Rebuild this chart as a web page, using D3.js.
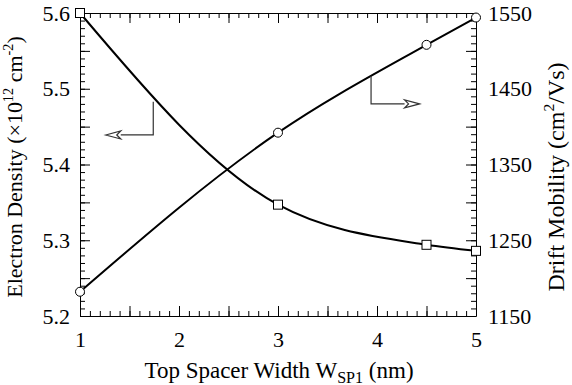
<!DOCTYPE html>
<html>
<head>
<meta charset="utf-8">
<script src="https://cdn.jsdelivr.net/npm/d3@7"></script>
</head>
<body style="margin:0; background:#fff">
<svg width="572" height="385"></svg>
<script>
const svg = d3.select("svg");
const SERIF = "Liberation Serif";

// data
const widths = [1, 3, 4.5, 5];
const density = [5.600, 5.347, 5.294, 5.286];
const mobility = [1182, 1392, 1508, 1544];

const xTicks = [1, 2, 3, 4, 5];
const densityTicks = [5.2, 5.3, 5.4, 5.5, 5.6];
const mobilityTicks = [1150, 1250, 1350, 1450, 1550];

// arrows pointing to the axes: [x, yTop, yBottom, tipX]
const densityArrow = [1.74, 5.483, 5.439, 1.26];
const mobilityArrow = [3.94, 1467, 1430, 4.43];

const x = d3.scaleLinear().domain([1, 5]).range([80, 476]);
const yL = d3.scaleLinear().domain([5.2, 5.6]).range([316, 13]);
const yR = d3.scaleLinear().domain([1150, 1550]).range([316, 13]);

const fmt1 = d3.format(".1f");

function step(a, b, s) {
	return d3.range(0, Math.round((b - a) / s) + 1).map(i => +(a + i * s).toFixed(4));
}

// note: any letter-spacing / dx list makes the renderer drop the serif font, so none here
function axisSet(axisFn, scale, minorStep, majorStep, labels, fmt, pos, pad) {
	const [a, b] = scale.domain();
	// minor ticks
	svg.append("g")
		.attr("transform", pos)
		.call(axisFn(scale).tickValues(step(a, b, minorStep)).tickSizeInner(-5).tickSizeOuter(0).tickFormat(""));
	// major ticks
	svg.append("g")
		.attr("transform", pos)
		.call(axisFn(scale).tickValues(step(a, b, majorStep)).tickSizeInner(-10).tickSizeOuter(0).tickFormat(""))
		.call(g => g.select(".domain").remove());
	if (labels) {
		return svg.append("g")
			.attr("transform", pos)
			.call(axisFn(scale).tickValues(labels).tickSize(0).tickPadding(pad).tickFormat(fmt))
			.call(g => g.attr("font-family", SERIF))
			.call(g => g.select(".domain").remove())
			.call(g => g.selectAll("text").attr("font-size", 22));
	}
}

axisSet(d3.axisBottom, x, 0.1, 0.5, xTicks, d3.format("d"), "translate(0,316)", 0)
	.selectAll("text").attr("y", 31).attr("dy", null);
axisSet(d3.axisTop, x, 0.1, 0.5, null, null, "translate(0,13)");
axisSet(d3.axisLeft, yL, 0.01, 0.05, densityTicks, fmt1, "translate(80,0)", 10);
axisSet(d3.axisRight, yR, 10, 50, mobilityTicks, d3.format("d"), "translate(476,0)", 12);

// curves
const lineL = d3.line().x(d => x(d[0])).y(d => yL(d[1])).curve(d3.curveMonotoneX);
const lineR = d3.line().x(d => x(d[0])).y(d => yR(d[1])).curve(d3.curveMonotoneX);

svg.append("path")
	.attr("d", lineL(widths.map((w, i) => [w, density[i]])))
	.attr("fill", "none").attr("stroke", "#000").attr("stroke-width", 2);
svg.append("path")
	.attr("d", lineR(widths.map((w, i) => [w, mobility[i]])))
	.attr("fill", "none").attr("stroke", "#000").attr("stroke-width", 2);

// markers
svg.selectAll("rect.sq")
	.data(widths.map((w, i) => [w, density[i]]))
	.enter().append("rect")
	.attr("class", "sq")
	.attr("x", d => x(d[0]) - 4.5).attr("y", d => yL(d[1]) - 4.5)
	.attr("width", 9).attr("height", 9)
	.attr("fill", "#fff").attr("stroke", "#000").attr("stroke-width", 1);

svg.selectAll("circle.ci")
	.data(widths.map((w, i) => [w, mobility[i]]))
	.enter().append("circle")
	.attr("class", "ci")
	.attr("cx", d => x(d[0])).attr("cy", d => yR(d[1]))
	.attr("r", 4.5)
	.attr("fill", "#fff").attr("stroke", "#000").attr("stroke-width", 1);

// arrows
function arrow(a, ys, dir) {
	const px = x(a[0]), pt = ys(a[1]), pb = ys(a[2]), tip = x(a[3]);
	const base = tip - dir * 15;
	svg.append("path")
		.attr("d", `M${px},${pt}V${pb}H${base}`)
		.attr("fill", "none").attr("stroke", "#333").attr("stroke-width", 1.2);
	svg.append("path")
		.attr("d", `M${tip},${pb}L${base},${pb - 4}L${base + dir * 4},${pb}L${base},${pb + 4}Z`)
		.attr("fill", "#fff").attr("stroke", "#333").attr("stroke-width", 1.2);
}
arrow(densityArrow, yL, -1);
arrow(mobilityArrow, yR, 1);

// axis titles, built from [text, size, dy] pieces (sizes given for a 20px base)
function title(tr, parts, size) {
	const k = size / 20;
	const t = svg.append("text").attr("transform", tr).attr("text-anchor", "middle")
		.attr("font-family", SERIF).attr("font-size", size);
	parts.forEach(p => {
		t.append("tspan")
			.attr("font-size", p[1] * k)
			.attr("dy", p[2] * k)
			.text(p[0]);
	});
	return t;
}

title("translate(279,378)", [["Top Spacer Width W", 20, 0], ["SP1", 14, 4], [" (nm)", 20, -4]], 23);
title("translate(22,167) rotate(-90)", [["Electron Density (\u00d710", 20, 0], ["12", 13, -8], [" cm", 20, 8], ["-2", 13, -8], [")", 20, 8]], 22);
title("translate(564,177) rotate(-90)", [["Drift Mobility (cm", 20, 0], ["2", 13, -8], ["/Vs)", 20, 8]], 24);

svg.selectAll("text").style("font-family", '"Liberation Serif"').attr("fill", "#000");
</script>
</body>
</html>
